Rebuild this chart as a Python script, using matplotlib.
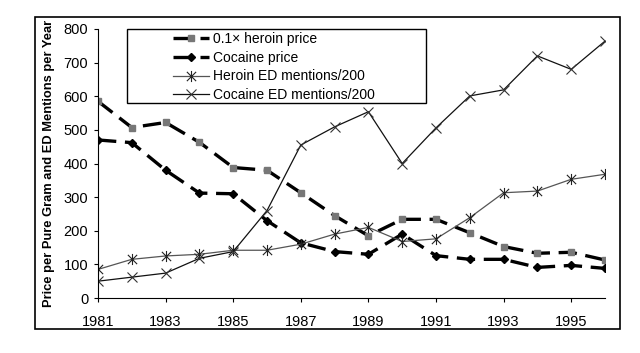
import numpy as np
import matplotlib
matplotlib.use("Agg")
import matplotlib.pyplot as plt
from matplotlib.patches import Rectangle
from matplotlib.path import Path

plt.rcParams['font.family'] = ['Liberation Sans', 'DejaVu Sans']

years = list(range(1981, 1997))
heroin_price = [585, 507, 522, 463, 388, 380, 313, 245, 185, 234, 234, 194, 153, 133, 136, 113]
cocaine_price = [470, 462, 380, 312, 310, 230, 164, 138, 130, 190, 126, 115, 115, 91, 97, 88]
heroin_ed = [85, 115, 125, 130, 142, 142, 160, 190, 210, 168, 176, 239, 313, 318, 353, 368]
cocaine_ed = [50, 62, 74, 118, 138, 260, 455, 509, 554, 400, 506, 601, 619, 720, 680, 764]

# stern wie in excel: x plus senkrechter strich
star = Path([(-1, -1), (1, 1), (-1, 1), (1, -1), (0, -1.2), (0, 1.2)],
            [Path.MOVETO, Path.LINETO, Path.MOVETO, Path.LINETO, Path.MOVETO, Path.LINETO])

fig = plt.figure(figsize=(6.4, 3.53), dpi=100)
ax = fig.add_axes([98/640, 1-298/353, 507/640, 269/353])

# rahmen um die ganze grafik
fig.patches.append(Rectangle((35/640, 1-329/353), 585/640, 312/353, transform=fig.transFigure,
                             fill=False, edgecolor='black', linewidth=1.2))

ax.plot(years, heroin_price, color='black', linewidth=2.4, dashes=(5.5, 2.6),
        marker='s', markersize=5, markerfacecolor='#777777', markeredgecolor='#777777',
        label='0.1\u00d7 heroin price')
ax.plot(years, cocaine_price, color='black', linewidth=2.4, dashes=(5.5, 2.6),
        marker='D', markersize=4.5, markerfacecolor='black', markeredgecolor='black',
        label='Cocaine price')
ax.plot(years, heroin_ed, color='#555555', linewidth=0.9,
        marker=star, markersize=8, markeredgewidth=0.8, markeredgecolor='#222222',
        label='Heroin ED mentions/200')
ax.plot(years, cocaine_ed, color='#111111', linewidth=0.9,
        marker='x', markersize=7, markeredgewidth=0.8, markeredgecolor='#333333',
        label='Cocaine ED mentions/200')

ax.set_xlim(1981, 1996)
ax.set_ylim(0, 800)
ax.set_xticks(range(1981, 1997, 2))
ax.set_yticks(range(0, 801, 100))
ax.tick_params(axis='both', labelsize=10.5, length=3, width=0.8, direction='out')
ax.tick_params(axis='x', pad=9)
ax.tick_params(axis='y', pad=4)
for s in ['top', 'right']:
    ax.spines[s].set_visible(False)
ax.set_ylabel('Price per Pure Gram and ED Mentions per Year', fontsize=9.3, fontweight='bold', labelpad=6)

# legende ohne rahmen, rahmen separat wie im original
leg = ax.legend(loc='upper left', bbox_to_anchor=(75/507, 1 - 3/269), fontsize=10, frameon=False,
                handlelength=2.6, borderpad=0, labelspacing=0.34, handletextpad=0.3, borderaxespad=0)
fig.patches.append(Rectangle((127/640, 1-103/353), 299/640, 74/353, transform=fig.transFigure,
                             fill=False, edgecolor='black', linewidth=1.0))

fig.savefig('out.png', dpi=100)
